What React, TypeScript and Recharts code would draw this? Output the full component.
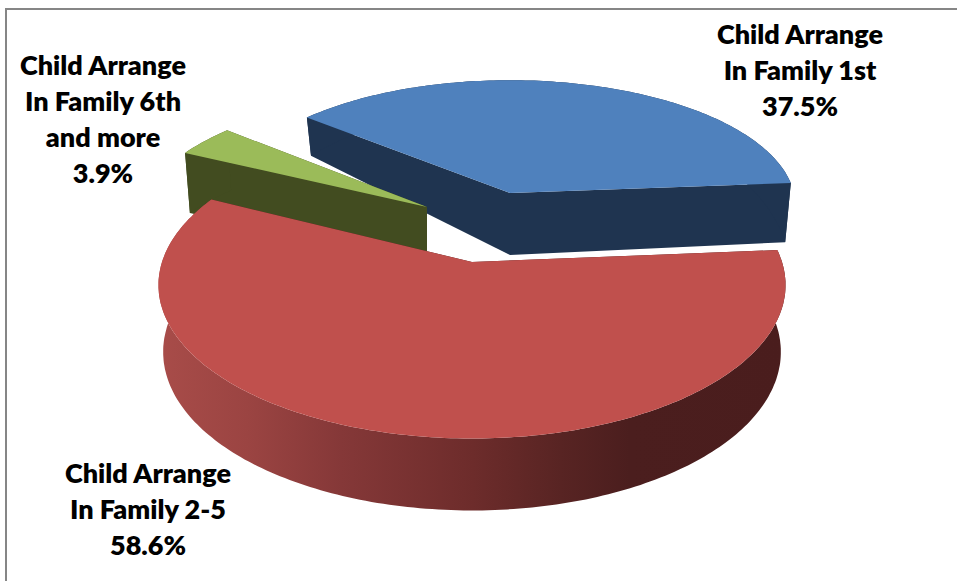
import React from 'react';
import { PieChart, Pie } from 'recharts';

const categories = ['Child Arrange In Family 1st', 'Child Arrange In Family 6th and more', 'Child Arrange In Family 2-5'];
const shares = [37.5, 3.9, 58.6];
const labelLines = [
  ['Child Arrange', 'In Family 1st'],
  ['Child Arrange', 'In Family 6th', 'and more'],
  ['Child Arrange', 'In Family 2-5'],
];

const pieData = categories.map((name, i) => ({ name, value: shares[i] }));

const WIDTH = 957;
const HEIGHT = 581;
const FONT = 'Lato, "Open Sans", sans-serif';

// per-slice look of the tilted, pulled-apart pie
const sliceStyles = [
  { top: '#4f81bd', wall: '#1f3450', arc: '#1f3450', dx: 29, dy: -42, scale: 0.916, tilt: 0.437, persp: 0.1, depth: 62, falloff: 0.59, shrink: 0.98 },
  { top: '#9bbb59', wall: '#424c20', arc: '#424c20', dx: -54, dy: -28, scale: 0.929, tilt: 0.451, persp: 0.15, depth: 60, falloff: 0, shrink: 0.98 },
  { top: '#c0504d', wall: '#4a1d1d', arc: 'url(#redEdge)', dx: -9, dy: 27, scale: 1, tilt: 0.484, persp: 0.15, depth: 66, falloff: 0.09, shrink: 0.985 },
];

const labelStyles = [
  { x: 800, y: 44 },
  { x: 103, y: 75 },
  { x: 148, y: 483 },
];

const RAD = Math.PI / 180;

function Slice3D(props: any) {
  const { cx, cy, outerRadius, startAngle, endAngle, name } = props;
  const s = sliceStyles[categories.indexOf(name)];
  const R = outerRadius * s.scale;
  const ax = cx + s.dx;
  const ay = cy + s.dy;

  // polar point on the disc -> screen, optionally pushed down to the underside
  const project = (angle: number, r: number, lower: boolean) => {
    const X = r * Math.cos(angle * RAD);
    const Y = r * Math.sin(angle * RAD);
    const w = 1 + s.persp * Y;
    const px = (R * X) / w;
    const py = (-R * s.tilt * Y) / w;
    if (!lower) return [ax + px, ay + py];
    return [ax + px * s.shrink, ay + py + s.depth * (1 - s.falloff * Y)];
  };

  const arc: number[] = [];
  const lo = Math.min(startAngle, endAngle);
  const hi = Math.max(startAngle, endAngle);
  for (let a = lo; a < hi; a += 1) arc.push(a);
  arc.push(hi);

  const pts = (list: number[][]) => list.map((p) => `${p[0].toFixed(1)},${p[1].toFixed(1)}`).join(' ');

  const topFace = [project(0, 0, false), ...arc.map((a) => project(a, 1, false))];
  const edge = [
    ...arc.map((a) => project(a, 1, false)),
    ...[...arc].reverse().map((a) => project(a, 1, true)),
  ];
  const wall = (angle: number) => [
    project(0, 0, false),
    project(angle, 1, false),
    project(angle, 1, true),
    project(0, 0, true),
  ];

  return (
    <g>
      <polygon points={pts(wall(lo))} fill={s.wall} />
      <polygon points={pts(wall(hi))} fill={s.wall} />
      <polygon points={pts(edge)} fill={s.arc} />
      <polygon points={pts(topFace)} fill={s.top} />
    </g>
  );
}

function SliceLabel(props: any) {
  const i = categories.indexOf(props.name);
  const pos = labelStyles[i];
  const lines = [...labelLines[i], `${shares[i].toFixed(1)}%`];
  return (
    <text x={pos.x} y={pos.y} textAnchor="middle" fontFamily={FONT} fontWeight={800} fontSize={27} fill="#000">
      {lines.map((line, n) => (
        <tspan key={n} x={pos.x} dy={n === 0 ? 0 : 36}>
          {line}
        </tspan>
      ))}
    </text>
  );
}

export default function App() {
  return (
    <div style={{ position: 'absolute', left: 0, top: 0, width: WIDTH, height: HEIGHT, overflow: 'hidden', background: '#fff' }}>
      <div
        style={{
          position: 'absolute',
          left: 5,
          top: 8,
          width: WIDTH,
          height: HEIGHT,
          borderLeft: '2px solid #868686',
          borderTop: '2px solid #868686',
        }}
      />
      <div style={{ position: 'absolute', left: 0, top: 0 }}>
        <PieChart width={WIDTH} height={HEIGHT} margin={{ top: 0, right: 0, bottom: 0, left: 0 }}>
          <defs>
            <linearGradient id="redEdge" gradientUnits="userSpaceOnUse" x1="160" y1="0" x2="786" y2="0">
              <stop offset="0%" stopColor="#a84c49" />
              <stop offset="14%" stopColor="#9b4442" />
              <stop offset="29%" stopColor="#853838" />
              <stop offset="50%" stopColor="#6d2c2b" />
              <stop offset="64%" stopColor="#582423" />
              <stop offset="75%" stopColor="#4b1e1e" />
              <stop offset="100%" stopColor="#4a1d1d" />
            </linearGradient>
          </defs>
          <Pie
            data={pieData}
            dataKey="value"
            nameKey="name"
            cx={481}
            cy={235}
            innerRadius={0}
            outerRadius={310}
            startAngle={4.6}
            endAngle={364.6}
            stroke="none"
            isAnimationActive={false}
            shape={Slice3D}
            label={SliceLabel}
            labelLine={false}
          />
        </PieChart>
      </div>
    </div>
  );
}
